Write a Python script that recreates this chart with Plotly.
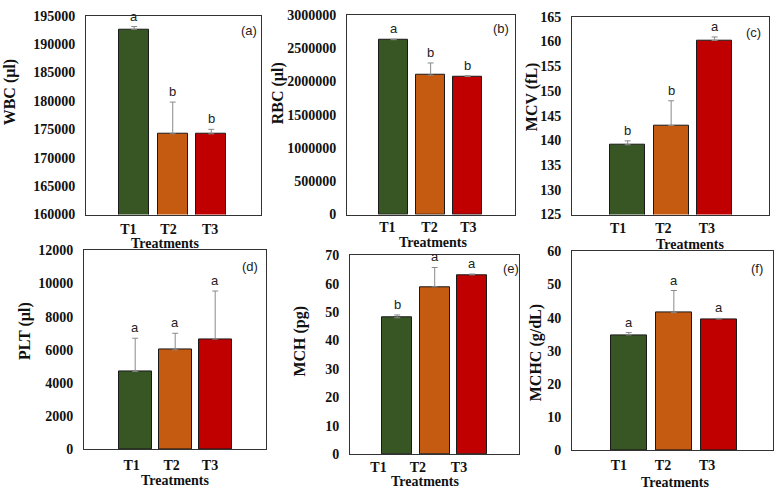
import plotly.graph_objects as go

categories = ["T1", "T2", "T3"]
colors = ["#375623", "#C55A11", "#C00000"]

wbc = [192600, 174200, 174200]
wbc_err = [500, 5600, 800]
wbc_sig = ["a", "b", "b"]

rbc = [2625000, 2093000, 2072000]
rbc_err = [8000, 183000, 12000]
rbc_sig = ["a", "b", "b"]

mcv = [139.1, 143.0, 160.2]
mcv_err = [0.8, 5.0, 0.7]
mcv_sig = ["b", "b", "a"]

plt_ = [4700, 6000, 6650]
plt_err = [2000, 1000, 2900]
plt_sig = ["a", "a", "a"]

mch = [48.0, 58.9, 63.1]
mch_err = [1.0, 6.8, 0.3]
mch_sig = ["b", "a", "a"]

mchc = [34.8, 41.5, 39.6]
mchc_err = [0.7, 6.7, 0.2]
mchc_sig = ["a", "a", "a"]

W, H = 777, 498

panels = [
    dict(vals=wbc, err=wbc_err, sig=wbc_sig, title="WBC (µl)", tag="(a)",
         box=(86, 261, 9, 214), xr=[-1.25, 3.29], bw=0.78,
         yr=[160000, 195000], dt=5000, tv=[-0.15, 0.89, 1.97], tl=2,
         ytitle=(10, 88), xtitle=(165, 244), tagpos=(249, 24)),
    dict(vals=rbc, err=rbc_err, sig=rbc_sig, title="RBC (µl)", tag="(b)",
         box=(347, 515, 8, 214), xr=[-1.26, 3.28], bw=0.78,
         yr=[0, 3000000], dt=500000, tv=[-0.17, 0.97, 2.02], tl=0,
         ytitle=(278, 89), xtitle=(433, 243), tagpos=(501, 22)),
    dict(vals=mcv, err=mcv_err, sig=mcv_sig, title="MCV (fL)", tag="(c)",
         box=(572, 769, 10, 214), xr=[-1.28, 3.25], bw=0.8,
         yr=[125, 165], dt=5, tv=[-0.22, 0.82, 1.82], tl=1,
         ytitle=(532, 93), xtitle=(690, 245), tagpos=(753, 26)),
    dict(vals=plt_, err=plt_err, sig=plt_sig, title="PLT (µl)", tag="(d)",
         box=(84, 266, 251, 456), xr=[-1.28, 3.27], bw=0.82,
         yr=[0, 12000], dt=2000, tv=[-0.09, 0.91, 1.87], tl=3,
         ytitle=(25, 334), xtitle=(175, 488), tagpos=(250, 268)),
    dict(vals=mch, err=mch_err, sig=mch_sig, title="MCH (pg)", tag="(e)",
         box=(350, 519, 256, 461), xr=[-1.26, 3.25], bw=0.81,
         yr=[0, 70], dt=10, tv=[-0.5, 0.55, 1.65], tl=0,
         ytitle=(300, 345), xtitle=(425, 489), tagpos=(511, 270)),
    dict(vals=mchc, err=mchc_err, sig=mchc_sig, title="MCHC (g/dL)", tag="(f)",
         box=(572, 773, 252, 457), xr=[-1.26, 3.2], bw=0.79,
         yr=[0, 60], dt=10, tv=[-0.22, 0.76, 1.74], tl=2,
         ytitle=(536, 357), xtitle=(675, 490), tagpos=(757, 270)),
]

serif = dict(family="Liberation Serif, Times New Roman, serif", size=14, color="#111", weight="bold")
sans = dict(family="Liberation Sans, Arial, sans-serif", size=13, color="#222")

fig = go.Figure()
layout = dict(width=W, height=H, margin=dict(l=0, r=0, t=0, b=0),
              paper_bgcolor="white", plot_bgcolor="white", showlegend=False,
              bargap=0, hovermode=False)
annotations = []

for i, p in enumerate(panels):
    n = "" if i == 0 else str(i + 1)
    xa, ya = "x" + n, "y" + n
    x0, x1, y0, y1 = p["box"]
    fig.add_trace(go.Bar(
        x=list(range(len(categories))), y=p["vals"], width=p["bw"],
        marker=dict(color=colors, line=dict(color="#1a1a1a", width=1)),
        error_y=dict(type="data", array=p["err"], arrayminus=[0] * 3, symmetric=False,
                     color="#8a8a8a", thickness=1, width=3),
        xaxis=xa, yaxis=ya,
    ))
    layout["xaxis" + n] = dict(
        domain=[x0 / W, x1 / W], range=p["xr"], anchor=ya,
        tickvals=p["tv"], ticktext=categories, ticks="outside" if p["tl"] > 0 else "",
        ticklen=max(p["tl"], 1),
        tickcolor="rgba(0,0,0,0)", showgrid=False, zeroline=False,
        showline=True, linecolor="#333", linewidth=1, mirror=True,
        tickfont=serif, fixedrange=True)
    layout["yaxis" + n] = dict(
        domain=[1 - y1 / H, 1 - y0 / H], range=p["yr"], anchor=xa,
        tickmode="linear", tick0=p["yr"][0], dtick=p["dt"], tickformat="d",
        ticks="outside", ticklen=7, tickcolor="rgba(0,0,0,0)",
        showgrid=False, zeroline=False,
        showline=True, linecolor="#333", linewidth=1, mirror=True,
        tickfont=serif, fixedrange=True)
    annotations.append(dict(text=p["title"], xref="paper", yref="paper",
                            x=p["ytitle"][0] / W, y=1 - p["ytitle"][1] / H,
                            textangle=-90, showarrow=False, xanchor="center", yanchor="middle",
                            font=dict(family=serif["family"], size=16, color="#111", weight="bold")))
    annotations.append(dict(text="Treatments", xref="paper", yref="paper",
                            x=p["xtitle"][0] / W, y=1 - p["xtitle"][1] / H,
                            showarrow=False, xanchor="center", yanchor="middle",
                            font=serif))
    annotations.append(dict(text=p["tag"], xref="paper", yref="paper",
                            x=p["tagpos"][0] / W, y=1 - p["tagpos"][1] / H,
                            showarrow=False, xanchor="center", yanchor="middle",
                            font=sans))
    for j, s in enumerate(p["sig"]):
        annotations.append(dict(text=s, xref=xa, yref=ya, x=j,
                                y=p["vals"][j] + p["err"][j], yshift=1,
                                showarrow=False, xanchor="center", yanchor="bottom",
                                font=sans))

layout["annotations"] = annotations
fig.update_layout(**layout)
fig.write_html("out.html", config={"displayModeBar": False},
               post_script="document.body.style.margin='0';document.body.style.overflow='hidden';")
